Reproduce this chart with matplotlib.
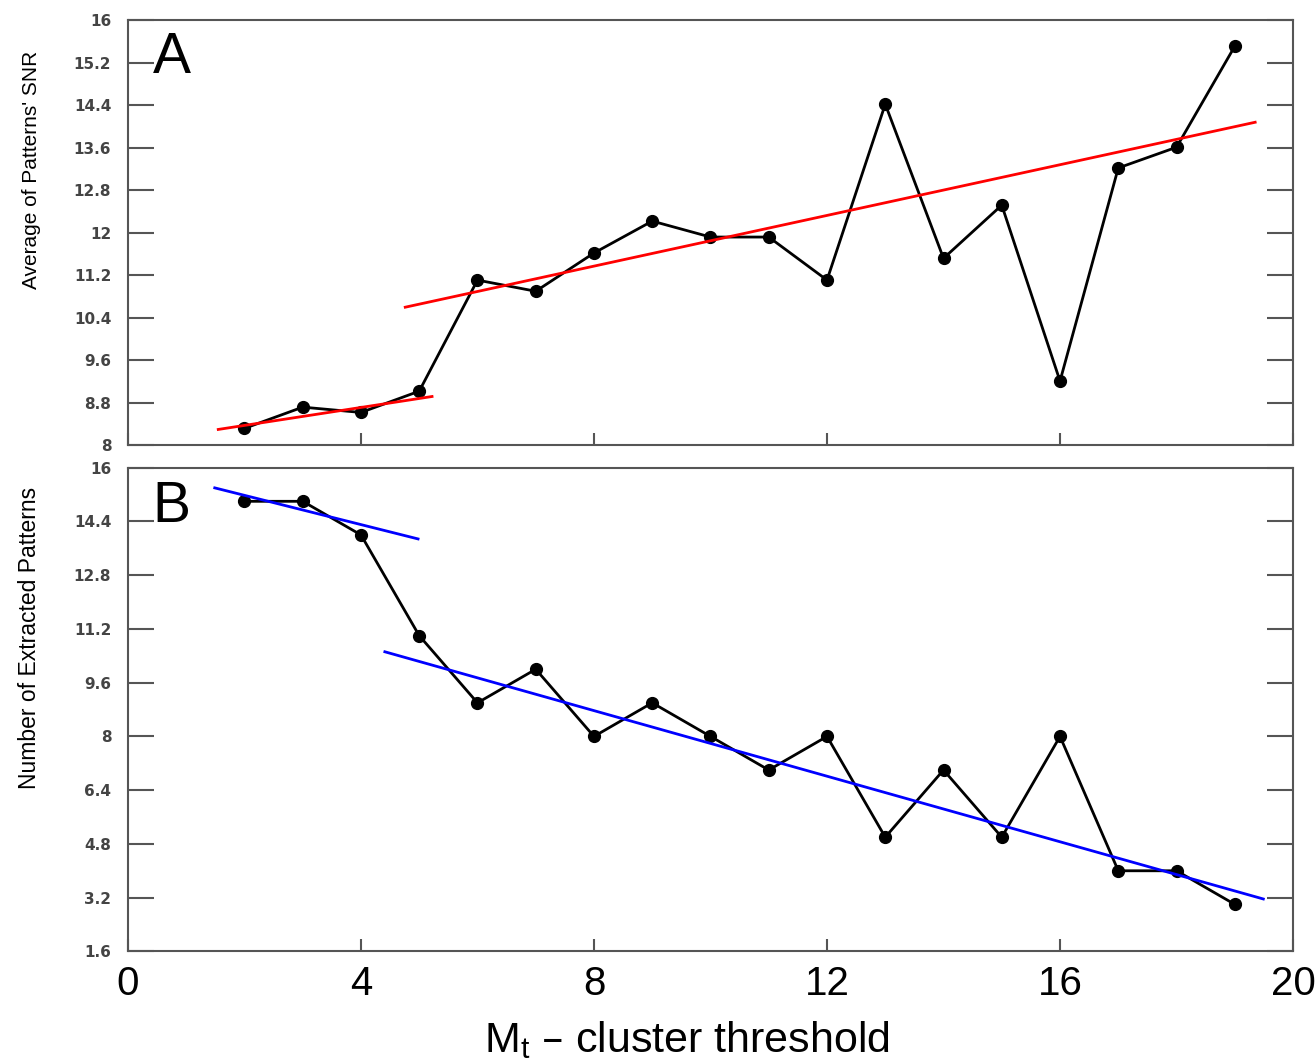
import numpy as np
import matplotlib
matplotlib.use("Agg")
import matplotlib.pyplot as plt

# data
mt = [2, 3, 4, 5, 6, 7, 8, 9, 10, 11, 12, 13, 14, 15, 16, 17, 18, 19]
snr_avg = [8.32, 8.72, 8.62, 9.02, 11.11, 10.90, 11.62, 12.22, 11.92, 11.92,
           11.11, 14.42, 11.52, 12.52, 9.21, 13.22, 13.61, 15.51]
n_patterns = [15, 15, 14, 11, 9, 10, 8, 9, 8, 7, 8, 5, 7, 5, 8, 4, 4, 3]

# trend lines (end points)
snr_fit1_x = [1.55, 5.22]
snr_fit1_y = [8.30, 8.92]
snr_fit2_x = [4.76, 19.35]
snr_fit2_y = [10.60, 14.08]
num_fit1_x = [1.49, 4.98]
num_fit1_y = [15.40, 13.88]
num_fit2_x = [4.41, 19.49]
num_fit2_y = [10.52, 3.16]

x_ticks = [0, 4, 8, 12, 16, 20]
snr_ticks = [8, 8.8, 9.6, 10.4, 11.2, 12, 12.8, 13.6, 14.4, 15.2, 16]
num_ticks = [1.6, 3.2, 4.8, 6.4, 8, 9.6, 11.2, 12.8, 14.4, 16]

sans = ['Liberation Sans', 'DejaVu Sans']
plt.rcParams['font.family'] = sans

fig = plt.figure(figsize=(13.15, 10.63), dpi=100)
ax1 = fig.add_axes([0.0973, 0.581, 0.886, 0.400])
ax2 = fig.add_axes([0.0973, 0.105, 0.886, 0.455])

def tick_fmt(v):
    s = ('%.1f' % v)
    return s[:-2] if s.endswith('.0') else s

def style(ax, yt, ylab, letter, ysize):
    ax.set_xlim(0, 20)
    ax.set_ylim(yt[0], yt[-1])
    ax.set_yticks(yt)
    ax.set_yticklabels([tick_fmt(v) for v in yt], family='DejaVu Sans',
                       fontweight='bold', fontsize=11, color='#444444')
    ax.set_xticks(x_ticks)
    ax.tick_params(axis='y', direction='in', length=19, width=1.5,
                   color='#555555', right=True, pad=12)
    ax.tick_params(axis='x', direction='in', length=9, width=1.5,
                   color='#555555', top=False)
    for sp in ax.spines.values():
        sp.set_color('#555555')
        sp.set_linewidth(1.5)
    ax.set_ylabel(ylab, fontsize=ysize)
    ax.yaxis.set_label_coords(-0.075, 0.648)
    ax.text(0.021, 0.975, letter, transform=ax.transAxes, fontsize=41,
            va='top', ha='left')

ax1.plot(mt, snr_avg, color='black', lw=2, marker='o', ms=8.5, zorder=3)
ax1.plot(snr_fit1_x, snr_fit1_y, color='#ff0000', lw=2, zorder=4)
ax1.plot(snr_fit2_x, snr_fit2_y, color='#ff0000', lw=2, zorder=4)
style(ax1, snr_ticks, "Average of Patterns' SNR", 'A', 15)
ax1.set_xticklabels([])

ax2.plot(mt, n_patterns, color='black', lw=2, marker='o', ms=8.5, zorder=3)
ax2.plot(num_fit1_x, num_fit1_y, color='#0000ff', lw=2, zorder=4)
ax2.plot(num_fit2_x, num_fit2_y, color='#0000ff', lw=2, zorder=4)
style(ax2, num_ticks, 'Number of Extracted Patterns', 'B', 16.5)
ax2.set_xticklabels([str(v) for v in x_ticks], fontsize=29)
ax2.tick_params(axis='x', pad=10)
ax2.set_xlabel('M$_\\mathregular{t}$ – cluster threshold', fontsize=31,
               labelpad=12)
ax2.xaxis.set_label_coords(0.48, -0.14)

fig.savefig('out.png', dpi=100)
